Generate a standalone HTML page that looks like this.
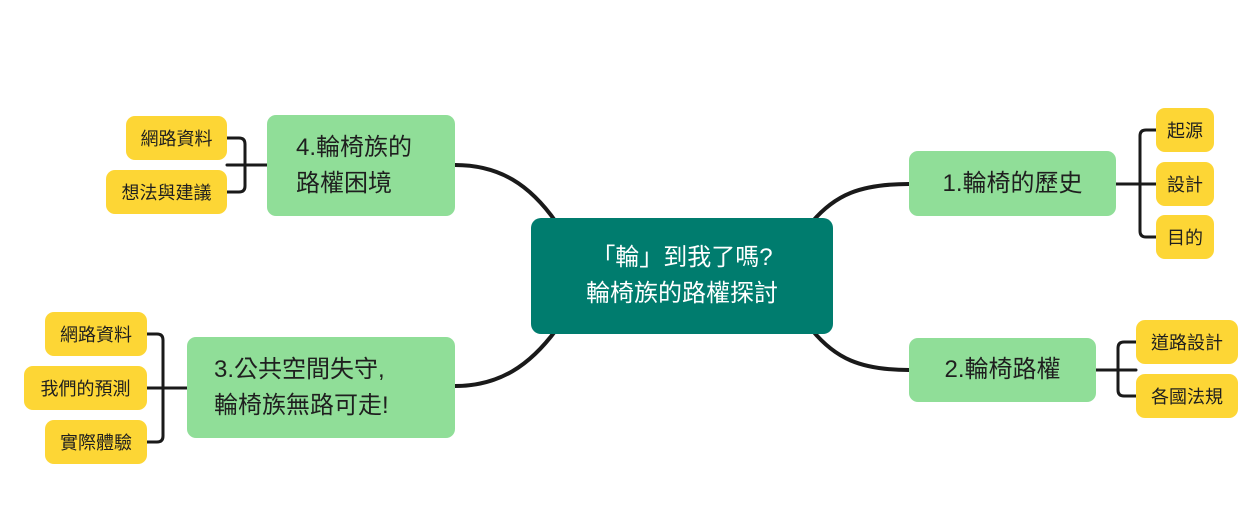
<!DOCTYPE html>
<html><head><meta charset="utf-8"><style>
html,body{margin:0;padding:0;background:#fff;width:1254px;height:517px;overflow:hidden;position:relative;font-family:"Liberation Sans","Noto Sans CJK TC",sans-serif}
.b{position:absolute;box-sizing:border-box;display:flex;align-items:center;justify-content:center;color:#1f1f1f;white-space:nowrap}
.g{background:#90de98;border-radius:9px;font-size:24px;line-height:36px}
.y{background:#fdd635;border-radius:9px;font-size:18px}
.c{background:#007c6e;border-radius:10px;color:#fff;font-size:24px;line-height:36px;text-align:center}
svg{position:absolute;left:0;top:0}
</style></head><body>
<svg width="1254" height="517" fill="none" stroke="#1a1a1a" stroke-width="4" stroke-linecap="round">
<path d="M812 222 C835 195 860 184 909 184"/>
<path d="M812 330 C835 358 860 370 909 370"/>
<path d="M556 222 C530 185 500 165 455 165"/>
<path d="M556 330 C530 365 500 386 455 386"/>
<g stroke-width="3">
<path d="M1116 184 H1156 M1156 130 H1146 Q1140 130 1140 136 V231 Q1140 237 1146 237 H1156"/>
<path d="M1096 370 H1136 M1136 342 H1124 Q1118 342 1118 348 V390 Q1118 396 1124 396 H1136"/>
<path d="M267 165 H227 M227 138 H239 Q245 138 245 144 V186 Q245 192 239 192 H227"/>
<path d="M187 388 H147 M147 334 H157 Q163 334 163 340 V436 Q163 442 157 442 H147"/>
</g>
</svg>
<div class="b c" style="left:531px;top:218px;width:302px;height:116px">「輪」到我了嗎?<br>輪椅族的路權探討</div>
<div class="b g" style="left:909px;top:151px;width:207px;height:65px">1.輪椅的歷史</div>
<div class="b g" style="left:909px;top:338px;width:187px;height:64px">2.輪椅路權</div>
<div class="b g" style="left:267px;top:115px;width:188px;height:101px;justify-content:flex-start;padding-left:29px">4.輪椅族的<br>路權困境</div>
<div class="b g" style="left:187px;top:337px;width:268px;height:101px;justify-content:flex-start;padding-left:27px">3.公共空間失守,<br>輪椅族無路可走!</div>
<div class="b y" style="left:1156px;top:108px;width:58px;height:44px">起源</div>
<div class="b y" style="left:1156px;top:162px;width:58px;height:44px">設計</div>
<div class="b y" style="left:1156px;top:215px;width:58px;height:44px">目的</div>
<div class="b y" style="left:1136px;top:320px;width:102px;height:44px">道路設計</div>
<div class="b y" style="left:1136px;top:374px;width:102px;height:44px">各國法規</div>
<div class="b y" style="left:126px;top:116px;width:101px;height:44px">網路資料</div>
<div class="b y" style="left:106px;top:170px;width:121px;height:44px">想法與建議</div>
<div class="b y" style="left:45px;top:312px;width:102px;height:44px">網路資料</div>
<div class="b y" style="left:24px;top:366px;width:123px;height:44px">我們的預測</div>
<div class="b y" style="left:45px;top:420px;width:102px;height:44px">實際體驗</div>
</body></html>
